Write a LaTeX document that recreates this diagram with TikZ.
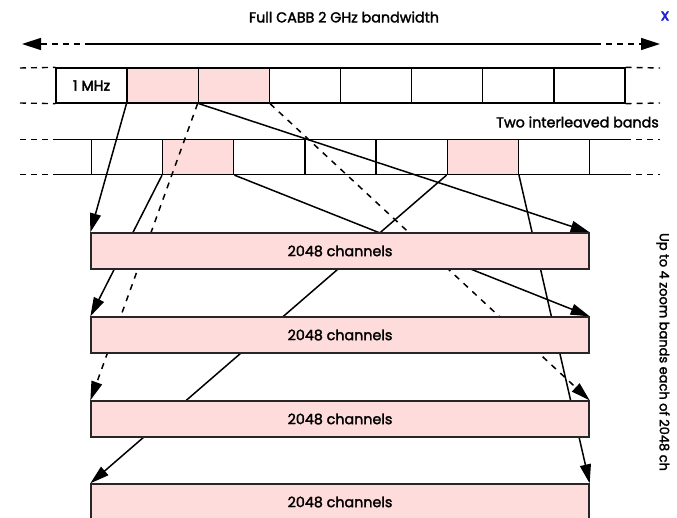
\documentclass[tikz,border=0pt]{standalone}
\usepackage{fontspec}
\setmainfont{Poppins}
\newfontfamily\diafont{Poppins}[FakeBold=2]
\newfontfamily\diafontb{Poppins}[FakeBold=3]
\usetikzlibrary{arrows.meta,backgrounds}
\definecolor{pinkfill}{RGB}{255,220,220}
\definecolor{xblue}{RGB}{30,30,210}
\begin{document}
\begin{tikzpicture}[x=1pt,y=-1pt,
  txt/.style={font=\diafont\fontsize{14.3}{16}\selectfont, inner sep=0pt},
  cell/.style={draw, line width=1.3pt, minimum width=71.125pt, minimum height=35pt, inner sep=0pt, txt},
  pinkcell/.style={cell, fill=pinkfill},
  zoombox/.style={draw=black!85, line width=1.3pt, fill=pinkfill, minimum width=498pt, minimum height=36pt, inner sep=0pt, txt},
  solidline/.style={line width=1.4pt},
  dashline/.style={line width=1.4pt, dash pattern=on 6pt off 5pt},
  tip/.style={-{Triangle[length=19pt,width=11pt]}},
  arr/.style={line width=1.5pt, tip},
  darr/.style={arr, dash pattern=on 6pt off 6pt}]
\useasboundingbox (0,0) rectangle (677,518);

% texts
\node[txt] (title) at (344,17) {Full CABB 2 GHz bandwidth};
\node[txt, text=xblue, font=\diafontb\fontsize{16}{18}\selectfont] (close) at (665,16) {x};
\node[txt, anchor=east] (two) at (659,122) {Two interleaved bands};
\node[txt, rotate=-90, font=\diafont\fontsize{13}{15}\selectfont] (side) at (663,352) {Up to 4 zoom bands each of 2048 ch};

% full bandwidth arrow
\coordinate (aL) at (22,44);
\coordinate (aL2) at (86,44);
\coordinate (aR2) at (595,44);
\coordinate (aR) at (660,44);
\draw[solidline] (aL2) -- (aR2);
\draw[dashline, {Triangle[length=19pt,width=12pt]}-] (aL) -- (aL2);
\draw[dashline, -{Triangle[length=19pt,width=12pt]}] (aR2) -- (aR);

% zoom boxes
\node[zoombox] (b1) at (340,251) {2048 channels};
\node[zoombox] (b2) at (340,335) {2048 channels};
\node[zoombox] (b3) at (340,419) {2048 channels};
\node[zoombox] (b4) at (340,502) {2048 channels};

\begin{pgfonlayer}{background}
% top row of 1 MHz channels
\foreach \i/\s in {1/cell,2/pinkcell,3/pinkcell,4/cell,5/cell,6/cell,7/cell,8/cell}
  \node[\s] (t\i) at ({56+71.125*(\i-0.5)},85.5) {};
\node[txt, font=\diafontb\fontsize{14.3}{16}\selectfont] (mhz) at (t1) {1 MHz};
\coordinate (tlt) at (20,68);
\coordinate (tlb) at (20,103);
\coordinate (trt) at (660,68);
\coordinate (trb) at (660,103);
\draw[dashline] (tlt) -- (t1.north west);
\draw[dashline] (tlb) -- (t1.south west);
\draw[dashline] (t8.north east) -- (trt);
\draw[dashline] (t8.south east) -- (trb);

% second (interleaved) row
\coordinate (slt) at (20,139.5);
\coordinate (slb) at (20,174.5);
\coordinate (smt) at (56,139.5);
\coordinate (smb) at (56,174.5);
\coordinate (snt) at (625,139.5);
\coordinate (snb) at (625,174.5);
\coordinate (srt) at (660,139.5);
\coordinate (srb) at (660,174.5);
\foreach \i/\s in {1/cell,2/pinkcell,3/cell,4/cell,5/cell,6/pinkcell,7/cell}
  \node[\s] (s\i) at ({91.5625+71.125*(\i-0.5)},157) {};
\draw[solidline] (smt) -- (snt);
\draw[solidline] (smb) -- (snb);
\draw[dashline] (slt) -- (smt);
\draw[dashline] (slb) -- (smb);
\draw[dashline] (snt) -- (srt);
\draw[dashline] (snb) -- (srb);

% mapping arrows
\draw[arr] (t2.south west) -- (b1.north west);
\draw[arr] (t2.south east) -- (b1.north east);
\draw[darr] (t3.south west) -- (b3.north west);
\draw[darr] (t3.south east) -- (b3.north east);
\draw[arr] (s2.south west) -- (b2.north west);
\draw[arr] (s2.south east) -- (b2.north east);
\draw[arr] (s6.south west) -- (b4.north west);
\draw[arr] (s6.south east) -- (b4.north east);
\end{pgfonlayer}
\end{tikzpicture}
\end{document}
